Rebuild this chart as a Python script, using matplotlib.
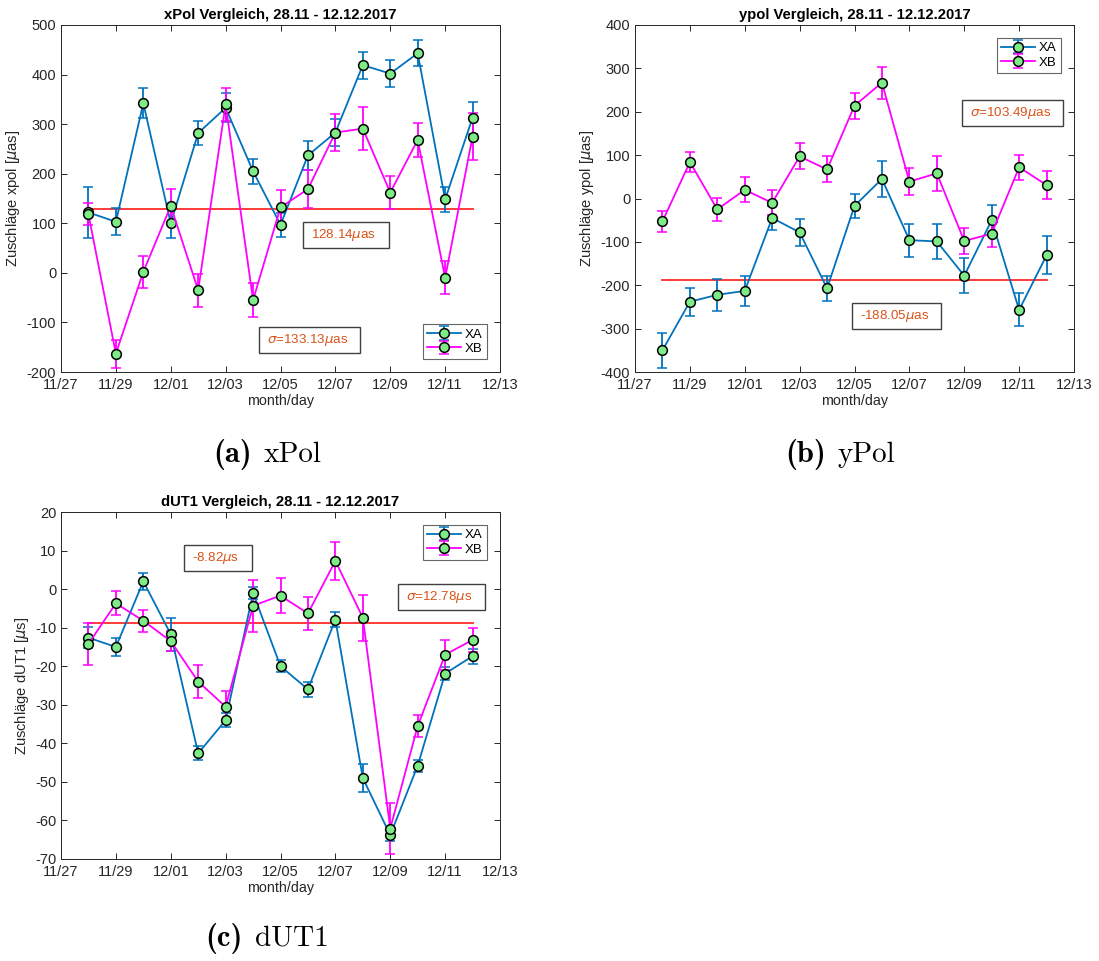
import datetime as dt

import matplotlib
matplotlib.use('Agg')
import matplotlib.pyplot as plt
import matplotlib.dates as mdates
from matplotlib.patches import Rectangle

plt.rcParams['font.family'] = ['Liberation Sans', 'DejaVu Sans']
plt.rcParams['mathtext.fontset'] = 'dejavusans'
plt.rcParams['axes.unicode_minus'] = False

days = [dt.datetime(2017, 11, 28) + dt.timedelta(days=i) for i in range(15)]

# xPol [µas]
xpol_a = [122, 103, 342, 100, 282, 333, 205, 97, 237, 283, 419, 402, 443, 148, 313]
xpol_a_err = [51, 27, 30, 30, 24, 29, 25, 24, 30, 28, 27, 28, 26, 25, 32]
xpol_b = [118, -163, 2, 135, -35, 340, -55, 132, 169, 283, 291, 162, 268, -10, 275]
xpol_b_err = [22, 28, 33, 35, 33, 33, 35, 36, 38, 38, 44, 33, 35, 33, 48]

# yPol [µas]
ypol_a = [-350, -238, -222, -213, -45, -78, -207, -17, 45, -96, -99, -178, -50, -257, -131]
ypol_a_err = [40, 32, 37, 35, 27, 31, 29, 28, 41, 38, 41, 40, 35, 38, 44]
ypol_b = [-53, 84, -25, 20, -10, 97, 67, 214, 267, 39, 58, -98, -81, 72, 31]
ypol_b_err = [25, 24, 27, 29, 29, 30, 30, 30, 37, 32, 41, 29, 30, 29, 33]

# dUT1 [µs]
dut_a = [-12.6, -15.0, 2.0, -11.7, -42.6, -34.0, -1.0, -20.0, -26.0, -7.9, -49.0, -63.8, -45.8, -21.9, -17.4]
dut_a_err = [2.8, 2.3, 2.2, 4.3, 1.8, 1.8, 1.5, 1.6, 1.9, 1.9, 3.6, 1.6, 1.6, 1.6, 1.9]
dut_b = [-14.2, -3.7, -8.2, -13.5, -24.0, -30.5, -4.3, -1.7, -6.3, 7.3, -7.4, -62.1, -35.5, -17.0, -13.2]
dut_b_err = [5.4, 3.1, 2.8, 2.6, 4.3, 4.0, 6.7, 4.6, 4.3, 5.0, 6.0, 6.7, 2.8, 3.9, 3.2]


def d(day):
    # day offset from 11/27 as a date number
    return mdates.date2num(dt.datetime(2017, 11, 27)) + day


W, H = 1099, 961

panels = [
    dict(title='xPol Vergleich, 28.11 - 12.12.2017', ylabel='Zuschläge xpol [$\\mu$as]',
         a=xpol_a, ae=xpol_a_err, b=xpol_b, be=xpol_b_err, mean=128.14,
         boxes=[('128.14$\\mu$as', 8.82, 11.95, 50, 103),
                ('$\\sigma$=133.13$\\mu$as', 7.22, 10.9, -162, -109)],
         ylim=(-200, 500), yticks=range(-200, 501, 100), leg='lower right',
         rect=[61, 25], caption='(a)', cname='xPol', cap_xy=(258, 462)),
    dict(title='ypol Vergleich, 28.11 - 12.12.2017', ylabel='Zuschläge ypol [$\\mu$as]',
         a=ypol_a, ae=ypol_a_err, b=ypol_b, be=ypol_b_err, mean=-188.05,
         boxes=[('-188.05$\\mu$as', 7.9, 11.17, -301, -241),
                ('$\\sigma$=103.49$\\mu$as', 11.9, 15.6, 167, 227)],
         ylim=(-400, 400), yticks=range(-400, 401, 100), leg='upper right',
         rect=[635, 25], caption='(b)', cname='yPol', cap_xy=(832, 462)),
    dict(title='dUT1 Vergleich, 28.11 - 12.12.2017', ylabel='Zuschläge dUT1 [$\\mu$s]',
         a=dut_a, ae=dut_a_err, b=dut_b, be=dut_b_err, mean=-8.82,
         boxes=[('-8.82$\\mu$s', 4.48, 6.96, 4.7, 11.4),
                ('$\\sigma$=12.78$\\mu$s', 12.28, 15.45, -5.4, 1.3)],
         ylim=(-70, 20), yticks=range(-70, 21, 10), leg='upper right',
         rect=[61, 512], caption='(c)', cname='dUT1', cap_xy=(249, 946)),
]

blue = '#0072BD'
magenta = '#FF00FF'
green = '#7DEB86'
orange = '#D95319'
dark = '#262626'

fig = plt.figure(figsize=(W / 100, H / 100), dpi=100)

for p in panels:
    left, top = p['rect']
    ax = fig.add_axes([left / W, 1 - (top + 347) / H, 439 / W, 347 / H])
    ax.errorbar(days, p['a'], yerr=p['ae'], color=blue, lw=1.3, capsize=3.5, elinewidth=1.3,
                marker='o', ms=7, mfc=green, mec='black', mew=1.1, label='XA', zorder=3)
    ax.errorbar(days, p['b'], yerr=p['be'], color=magenta, lw=1.3, capsize=3.5, elinewidth=1.3,
                marker='o', ms=7, mfc=green, mec='black', mew=1.1, label='XB', zorder=3)
    ax.plot([days[0], days[-1]], [p['mean'], p['mean']], color='#FF2A2A', lw=1.3, zorder=2)

    for txt, x0, x1, y0, y1 in p['boxes']:
        ax.add_patch(Rectangle((d(x0), y0), x1 - x0, y1 - y0, fc='white', ec='#404040',
                               lw=1.0, zorder=4))
        ax.text(d(x0) + 0.3, (y0 + y1) / 2, txt, color=orange, fontsize=9.6,
                va='center', ha='left', zorder=5)

    ax.set_xlim(dt.datetime(2017, 11, 27), dt.datetime(2017, 12, 13))
    ax.xaxis.set_major_locator(mdates.DayLocator(bymonthday=[1, 3, 5, 7, 9, 11, 13, 27, 29]))
    ax.xaxis.set_major_formatter(mdates.DateFormatter('%m/%d'))
    ax.set_ylim(*p['ylim'])
    ax.set_yticks(list(p['yticks']))
    ax.tick_params(direction='in', top=True, right=True, labelsize=10.5, length=4, width=0.7,
                   colors=dark)
    ax.tick_params(axis='x', pad=4.5)
    for s in ax.spines.values():
        s.set_color(dark)
        s.set_linewidth(0.7)
    ax.set_title(p['title'], fontsize=10.7, fontweight='bold', pad=4)
    ax.set_ylabel(p['ylabel'], fontsize=10.6, color=dark, labelpad=3)
    ax.set_xlabel('month/day', fontsize=10.3, color=dark, labelpad=1)
    leg = ax.legend(loc=p['leg'], fontsize=9.5, frameon=True, fancybox=False, handlelength=2.6,
                    handletextpad=0.3, borderaxespad=1.0, borderpad=0.3, labelspacing=0.15)
    leg.get_frame().set_edgecolor('#404040')
    leg.get_frame().set_linewidth(0.8)

    cx, cy = p['cap_xy']
    fig.text((cx - 6) / W, 1 - cy / H, p['caption'], ha='right', va='baseline',
             fontsize=22, family='cmb10')
    fig.text((cx + 6) / W, 1 - cy / H, p['cname'], ha='left', va='baseline',
             fontsize=21, family='cmr10')

fig.savefig('out.png', dpi=100)
